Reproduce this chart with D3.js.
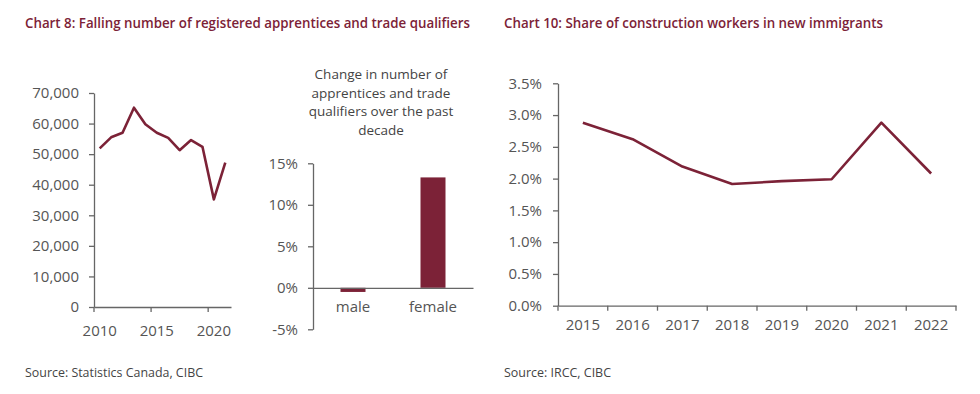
<!DOCTYPE html>
<html>
<head>
<meta charset="utf-8">
<script src="https://cdn.jsdelivr.net/npm/d3@7"></script>
<style>
  body { margin: 0; background: #fff; }
  svg { display: block; }
  .axis path, .axis line { stroke: #666; stroke-width: 1.3; }
  .axis text { fill: #555; font-family: "Open Sans", sans-serif; font-size: 14px; }
</style>
</head>
<body>
<svg id="chart" width="980" height="394"></svg>
<script>
// Chart 8 - registered apprentices and trade qualifiers
const appYears = [2010, 2011, 2012, 2013, 2014, 2015, 2016, 2017, 2018, 2019, 2020, 2021];
const appCounts = [51900, 55500, 57000, 65200, 59800, 57000, 55300, 51300, 54600, 52400, 35200, 47200];
const appYearLabels = [2010, 2015, 2020];
const appTicks = [0, 10000, 20000, 30000, 40000, 50000, 60000, 70000];

// change over past decade by sex
const sexCats = ['male', 'female'];
const sexChange = [-0.005, 0.133];
const changeTicks = [-0.05, 0, 0.05, 0.10, 0.15];
const changeTitle = ['Change in number of', 'apprentices and trade', 'qualifiers over the past', 'decade'];

// Chart 10 - share of construction workers in new immigrants
const immYears = ['2015', '2016', '2017', '2018', '2019', '2020', '2021', '2022'];
const immShare = [0.0288, 0.0262, 0.0219, 0.01915, 0.0196, 0.0199, 0.0288, 0.0208];
const immTicks = [0, 0.005, 0.01, 0.015, 0.02, 0.025, 0.03, 0.035];

const red = '#7c2237';
const svg = d3.select('#chart');

// titles + sources
function fitText(x, y, str, width, opts) {
    const t = svg.append('text')
        .attr('x', x).attr('y', y)
        .attr('fill', opts.fill)
        .attr('font-family', '"Open Sans", sans-serif')
        .attr('font-size', opts.size)
        .attr('font-weight', opts.weight || 400)
        .text(str);
    const w = t.node().getComputedTextLength();
    if (Math.abs(w - width) > 2) {
        t.attr('textLength', width).attr('lengthAdjust', 'spacingAndGlyphs');
    }
    return t;
}
fitText(25, 28, 'Chart 8: Falling number of registered apprentices and trade qualifiers', 445, { fill: red, size: '15px', weight: 600 });
fitText(504, 28, 'Chart 10: Share of construction workers in new immigrants', 379, { fill: red, size: '15px', weight: 600 });
fitText(25, 377, 'Source: Statistics Canada, CIBC', 178, { fill: '#444', size: '13px' });
fitText(504, 377, 'Source: IRCC, CIBC', 107, { fill: '#444', size: '13px' });

// ---- Chart 8 line ----
const x8 = d3.scaleBand().domain(appYears).range([94, 231]);
const y8 = d3.scaleLinear().domain([0, 70000]).range([307, 93]);

svg.append('g')
    .attr('class', 'axis')
    .attr('transform', 'translate(94,0)')
    .call(d3.axisLeft(y8).tickValues(appTicks).tickSize(5).tickSizeOuter(0).tickPadding(10)
        .tickFormat(d3.format(',')))
    .call(g => g.selectAll('text').style('font-size', '15px'));

const xa8 = svg.append('g')
    .attr('class', 'axis')
    .attr('transform', 'translate(0,307)')
    .call(d3.axisBottom(x8).tickValues(appYearLabels).tickSize(0).tickSizeOuter(0).tickPadding(18))
    .call(g => g.selectAll('text').style('font-size', '15px'));
xa8.selectAll('.tick-mark')
    .data(appYearLabels)
    .enter()
    .append('line')
    .attr('x1', d => x8(d)).attr('x2', d => x8(d))
    .attr('y1', 0).attr('y2', 5);

svg.append('path')
    .datum(appCounts)
    .attr('fill', 'none')
    .attr('stroke', red)
    .attr('stroke-width', 2.6)
    .attr('stroke-linejoin', 'round')
    .attr('d', d3.line()
        .x((d, i) => x8(appYears[i]) + x8.bandwidth() / 2)
        .y(d => y8(d)));

// ---- Chart 8 bars ----
const xb = d3.scaleBand().domain(sexCats).range([313, 473]).paddingInner(0.6875).paddingOuter(0.34375);
const yb = d3.scaleLinear().domain([-0.05, 0.15]).range([329.3, 163.3]);

svg.append('g')
    .attr('class', 'axis')
    .attr('transform', 'translate(313,0)')
    .call(d3.axisLeft(yb).tickValues(changeTicks).tickSize(5).tickSizeOuter(0).tickPadding(10)
        .tickFormat(v => Math.round(v * 100) + '%'))
    .call(g => g.selectAll('text').style('font-size', '15px'));

svg.selectAll('.bar')
    .data(sexChange)
    .enter()
    .append('rect')
    .attr('class', 'bar')
    .attr('x', (d, i) => xb(sexCats[i]))
    .attr('width', xb.bandwidth())
    .attr('y', d => yb(Math.max(0, d)))
    .attr('height', d => Math.abs(yb(d) - yb(0)))
    .attr('fill', red);

svg.append('g')
    .attr('class', 'axis')
    .attr('transform', `translate(0,${yb(0)})`)
    .call(d3.axisBottom(xb).tickSize(0).tickSizeOuter(0).tickPadding(14))
    .call(g => g.selectAll('text').style('font-size', '15px'));

// small wrapped title above the bars
svg.append('text')
    .attr('x', 381)
    .attr('y', 79)
    .attr('text-anchor', 'middle')
    .attr('fill', '#444')
    .attr('font-family', '"Open Sans", sans-serif')
    .attr('font-size', '13.5px')
    .selectAll('tspan')
    .data(changeTitle)
    .enter()
    .append('tspan')
    .attr('x', 381)
    .attr('dy', (d, i) => i === 0 ? 0 : 18.5)
    .text(d => d);

// ---- Chart 10 line ----
const x10 = d3.scaleBand().domain(immYears).range([558, 956]);
const y10 = d3.scaleLinear().domain([0, 0.035]).range([305.7, 83.3]);

svg.append('g')
    .attr('class', 'axis')
    .attr('transform', 'translate(558,0)')
    .call(d3.axisLeft(y10).tickValues(immTicks).tickSize(5).tickSizeOuter(0).tickPadding(11)
        .tickFormat(d3.format('.1%')))
    .call(g => g.selectAll('text').style('font-size', '15px'));

const xa10 = svg.append('g')
    .attr('class', 'axis')
    .attr('transform', 'translate(0,305.7)')
    .call(d3.axisBottom(x10).tickSize(0).tickSizeOuter(0).tickPadding(14))
    .call(g => g.selectAll('text').style('font-size', '15px'));
xa10.selectAll('.tick-mark')
    .data(immYears.concat(['end']))
    .enter()
    .append('line')
    .attr('x1', d => d === 'end' ? x10.range()[1] : x10(d))
    .attr('x2', d => d === 'end' ? x10.range()[1] : x10(d))
    .attr('y1', 0).attr('y2', 5);

svg.append('path')
    .datum(immShare)
    .attr('fill', 'none')
    .attr('stroke', red)
    .attr('stroke-width', 2.6)
    .attr('stroke-linejoin', 'round')
    .attr('d', d3.line()
        .x((d, i) => x10(immYears[i]) + x10.bandwidth() / 2)
        .y(d => y10(d)));
</script>
</body>
</html>
